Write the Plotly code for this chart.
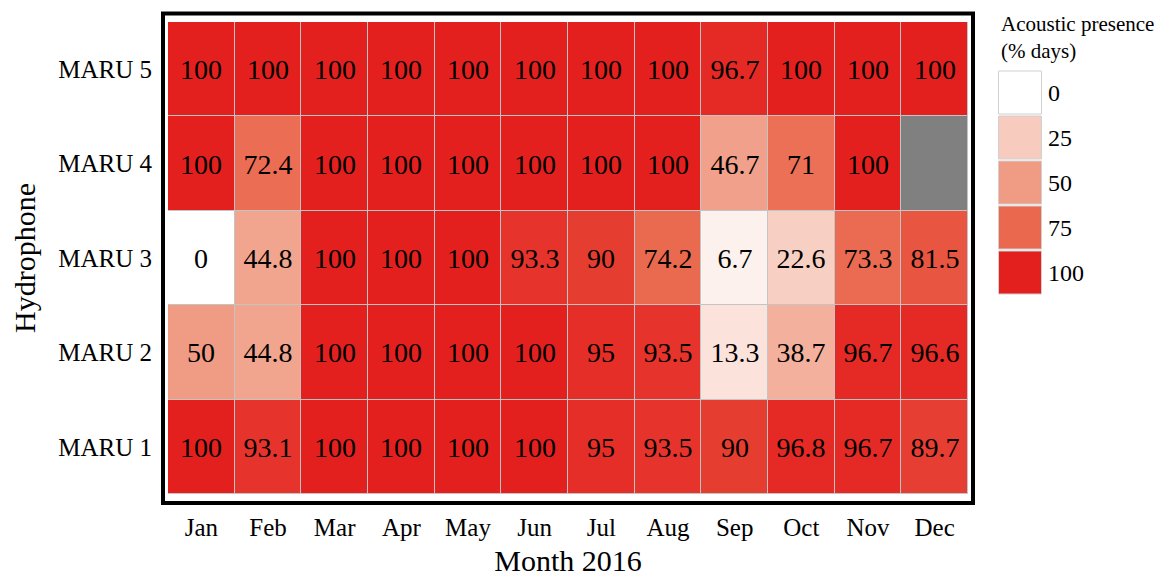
import plotly.graph_objects as go

months = ["Jan", "Feb", "Mar", "Apr", "May", "Jun", "Jul", "Aug", "Sep", "Oct", "Nov", "Dec"]
hydrophones = ["MARU 1", "MARU 2", "MARU 3", "MARU 4", "MARU 5"]

maru1 = [100, 93.1, 100, 100, 100, 100, 95, 93.5, 90, 96.8, 96.7, 89.7]
maru2 = [50, 44.8, 100, 100, 100, 100, 95, 93.5, 13.3, 38.7, 96.7, 96.6]
maru3 = [0, 44.8, 100, 100, 100, 93.3, 90, 74.2, 6.7, 22.6, 73.3, 81.5]
maru4 = [100, 72.4, 100, 100, 100, 100, 100, 100, 46.7, 71, 100, None]
maru5 = [100, 100, 100, 100, 100, 100, 100, 100, 96.7, 100, 100, 100]

legend_values = [0, 25, 50, 75, 100]
legend_title = "Acoustic presence<br>(% days)"

z = [maru1, maru2, maru3, maru4, maru5]
text = [["" if v is None else f"{v:g}" for v in row] for row in z]
na_mask = [[1 if v is None else None for v in row] for row in z]

colorscale = [
    [0.0, "#ffffff"],
    [0.25, "#f7cbbd"],
    [0.5, "#f09b83"],
    [0.75, "#ea684d"],
    [1.0, "#e4201f"],
]

FONT = "Liberation Serif"

fig = go.Figure()

fig.add_trace(go.Heatmap(
    x=months, y=hydrophones, z=na_mask,
    colorscale=[[0, "#808080"], [1, "#808080"]],
    showscale=False, xgap=1, ygap=1, hoverinfo="skip",
))

fig.add_trace(go.Heatmap(
    x=months, y=hydrophones, z=z, text=text,
    texttemplate="%{text}",
    textfont=dict(family=FONT, size=28, color="black"),
    colorscale=colorscale, zmin=0, zmax=100,
    showscale=False, xgap=1, ygap=1,
))

fig.add_trace(go.Scatter(
    x=[0] * len(legend_values), y=list(range(len(legend_values))),
    mode="markers",
    marker=dict(symbol="square", size=43, color=legend_values,
                colorscale=colorscale, cmin=0, cmax=100,
                line=dict(color="#d0d0d0", width=1)),
    xaxis="x2", yaxis="y2", showlegend=False, hoverinfo="skip",
    cliponaxis=False,
))

# page body adds an 8px offset; positions below are window pixels
OFF = 8
W, H = 1165, 578
ml, mr, mt, mb = 168 - OFF, 10, 22 - OFF, H - (494 - OFF)
pw = W - ml - mr
ph = H - mt - mb

def px_x(p):
    return (p - OFF - ml) / pw

def px_y(p):
    return (H - mb - (p - OFF)) / ph

fig.update_layout(
    width=W, height=H,
    margin=dict(l=ml, r=mr, t=mt, b=mb),
    paper_bgcolor="white", plot_bgcolor="white",
    font=dict(family=FONT, color="black"),
    xaxis=dict(
        domain=[0, px_x(968)], range=[-0.5, 11.5],
        showgrid=False, zeroline=False, showline=False, ticks="",
        tickfont=dict(size=25), ticklabelstandoff=16,
        title=dict(text="Month 2016", font=dict(size=30), standoff=9),
    ),
    yaxis=dict(
        range=[-0.5, 4.5],
        showgrid=False, zeroline=False, showline=False, ticks="",
        tickfont=dict(size=25), ticklabelstandoff=15,
        title=dict(text="Hydrophone", font=dict(size=30), standoff=17),
    ),
    xaxis2=dict(
        domain=[px_x(999), px_x(1041)], range=[-1, 1], anchor="y2",
        visible=False, fixedrange=True,
    ),
    yaxis2=dict(
        domain=[px_y(295), px_y(70)], range=[4.5, -0.5], anchor="x2",
        side="right", showgrid=False, zeroline=False, showline=False,
        ticks="", tickvals=list(range(len(legend_values))),
        ticktext=[str(v) for v in legend_values],
        tickfont=dict(size=24), ticklabelstandoff=6,
    ),
    shapes=[
        dict(type="rect", xref="x domain", yref="y domain",
             x0=0, x1=1, y0=0, y1=1, fillcolor="#c4c4c4",
             line=dict(width=0), layer="below"),
        dict(type="rect", xref="x domain", yref="y domain",
             x0=-5 / 800, x1=1 + 5 / 800, y0=-9 / 472, y1=1 + 8.5 / 472,
             line=dict(color="black", width=4), fillcolor="rgba(0,0,0,0)",
             layer="above"),
    ],
    annotations=[
        dict(text=legend_title, xref="paper", yref="paper",
             x=px_x(999), y=px_y(10), xanchor="left", yanchor="top",
             align="left", showarrow=False, font=dict(size=21)),
    ],
)

fig.write_html("out.html", config={"displayModeBar": False})
